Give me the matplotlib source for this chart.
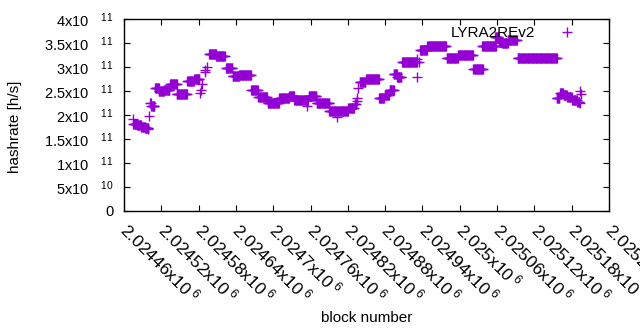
import matplotlib
matplotlib.use("Agg")
import matplotlib.pyplot as plt
import numpy as np
from matplotlib.ticker import FixedLocator, FuncFormatter

plt.rcParams["font.family"] = ["Liberation Sans", "DejaVu Sans"]
plt.rcParams["mathtext.fontset"] = "custom"
plt.rcParams["mathtext.rm"] = "Liberation Sans"
plt.rcParams["mathtext.default"] = "regular"

# runs of blocks with the same hashrate estimate: first block, last block, hashrate (x1e11 h/s)
run_inicio = [
    2024474, 2024475, 2024481, 2024488, 2024494, 2024498, 2024500, 2024502, 2024504,
    2024510, 2024516, 2024524, 2024534, 2024545, 2024562, 2024573,
    2024582, 2024584, 2024585, 2024590, 2024591, 2024593,
    2024597, 2024608, 2024624, 2024635, 2024645, 2024665, 2024676, 2024691,
    2024710, 2024726, 2024734, 2024755, 2024757, 2024770, 2024790, 2024802,
    2024806, 2024821, 2024831, 2024834, 2024835, 2024837, 2024839, 2024849,
    2024870, 2024879, 2024887, 2024894, 2024899, 2024907, 2024931, 2024932, 2024934,
    2024936, 2024948, 2024956, 2024979, 2024997, 2025022, 2025036, 2025057,
    2025063, 2025068, 2025077, 2025093,
    2025156, 2025161, 2025167, 2025173, 2025181, 2025189, 2025193, 2025194, 2025195,
]
run_fim = [
    2024474, 2024481, 2024487, 2024494, 2024499, 2024498, 2024500, 2024503, 2024509,
    2024516, 2024524, 2024533, 2024545, 2024561, 2024572, 2024581,
    2024582, 2024584, 2024585, 2024590, 2024591, 2024593,
    2024608, 2024622, 2024634, 2024645, 2024664, 2024675, 2024690, 2024709,
    2024725, 2024733, 2024756, 2024755, 2024769, 2024790, 2024804, 2024802,
    2024820, 2024830, 2024833, 2024834, 2024835, 2024837, 2024848, 2024870,
    2024878, 2024886, 2024894, 2024899, 2024906, 2024931, 2024931, 2024932, 2024934,
    2024947, 2024955, 2024978, 2024997, 2025021, 2025037, 2025058, 2025062,
    2025068, 2025077, 2025092, 2025156,
    2025160, 2025166, 2025172, 2025180, 2025188, 2025192, 2025193, 2025194, 2025195,
]
hashrate = [
    1.92, 1.82, 1.79, 1.75, 1.72, 1.70, 1.98, 2.25, 2.18,
    2.56, 2.50, 2.53, 2.65, 2.43, 2.70, 2.74,
    2.45, 2.52, 2.65, 2.90, 2.94, 3.00,
    3.28, 3.23, 2.97, 2.82, 2.84, 2.52, 2.37, 2.26,
    2.36, 2.40, 2.31, 2.19, 2.40, 2.25, 2.08, 1.96,
    2.09, 2.15, 2.22, 2.30, 2.35, 2.56, 2.68, 2.74,
    2.35, 2.42, 2.53, 2.86, 2.79, 3.10, 2.80, 3.17, 3.10,
    3.35, 3.43, 3.44, 3.19, 3.24, 2.95, 3.44, 3.62,
    3.52, 3.50, 3.56, 3.18,
    2.35, 2.45, 2.41, 2.37, 2.31, 2.27, 2.25, 2.49, 2.44,
]

x_ticks = [2024460 + 60 * i for i in range(14)]
y_ticks = [0, 0.5e11, 1e11, 1.5e11, 2e11, 2.5e11, 3e11, 3.5e11, 4e11]


def fmt_gnuplot(v, espaco):
    # estilo gnuplot: 2.02446x10^6 (expoente meio afastado)
    if v == 0:
        return "0"
    exp = int(np.floor(np.log10(abs(v))))
    mant = v / 10 ** exp
    mant_txt = f"{mant:.6f}".rstrip("0").rstrip(".")
    return mant_txt + r"x10$^{%s%d}$" % (espaco, exp)


blocos = np.concatenate([np.arange(a, b + 1) for a, b in zip(run_inicio, run_fim)])
valores = np.concatenate([np.full(b - a + 1, h * 1e11) for a, b, h in zip(run_inicio, run_fim, hashrate)])

fig = plt.figure(figsize=(6.4, 3.3), dpi=100)
ax = fig.add_axes([124 / 640, 1 - 211 / 330, 485 / 640, 192 / 330])
ax.plot(blocos, valores, linestyle="none", marker="+", markersize=6.5,
        markeredgewidth=1.0, color="#9400D3", label="LYRA2REv2")

ax.set_xlim(x_ticks[0], x_ticks[-1])
ax.set_ylim(0, 4e11)
ax.xaxis.set_major_locator(FixedLocator(x_ticks))
ax.yaxis.set_major_locator(FixedLocator(y_ticks))
ax.xaxis.set_major_formatter(FuncFormatter(lambda v, p: fmt_gnuplot(v, r"\;")))
ax.yaxis.set_major_formatter(FuncFormatter(lambda v, p: fmt_gnuplot(v, r"\quad\;")))
ax.tick_params(direction="in", top=True, right=True, length=4, width=0.8, colors="black")
ax.tick_params(axis="y", labelsize=10.5, pad=7.5)
ax.tick_params(axis="x", labelsize=12.5, pad=11.0)
for lab in ax.get_xticklabels():
    lab.set_rotation(-45)
    lab.set_ha("left")
    lab.set_va("center")
    lab.set_rotation_mode("anchor")
for s in ax.spines.values():
    s.set_linewidth(1.0)

ax.set_xlabel("block number", fontsize=11)
ax.set_ylabel("hashrate [h/s]", fontsize=11)
ax.xaxis.set_label_coords(0.5, -0.52)
ax.yaxis.set_label_coords(-0.21, 0.44)

ax.legend(loc="upper right", bbox_to_anchor=(0.970, 0.977), markerfirst=False,
          frameon=False, fontsize=11, handlelength=3.2, handletextpad=0.5,
          borderpad=0.2, borderaxespad=0.0)

fig.savefig("out.png", dpi=100)
